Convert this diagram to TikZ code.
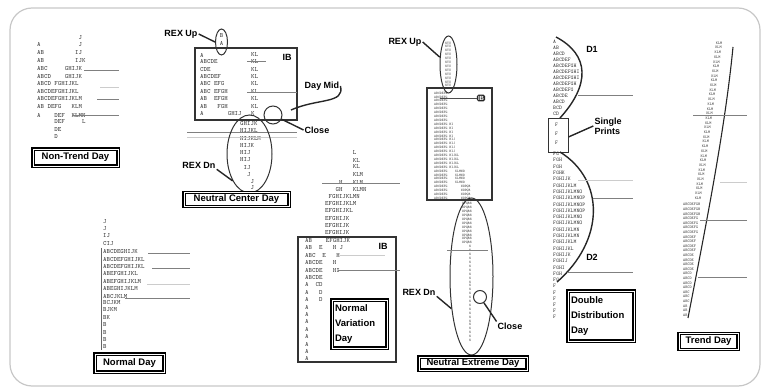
\documentclass[tikz,border=0pt]{standalone}
\usepackage{fontspec}
\usepackage{tikz}
\usetikzlibrary{shapes.geometric}
\newfontfamily\lblfont{Liberation Sans}

\tikzset{
  outerframe/.style={draw=black!22, line width=1.2pt, rounded corners=22pt},
  prof/.style={font=\ttfamily\fontsize{6.5}{6.5}\selectfont, text=black!80, inner sep=0pt, anchor=west},
  profm/.style={prof, font=\ttfamily\fontsize{5.5}{5.5}\selectfont},
  profs/.style={prof, font=\ttfamily\fontsize{3.6}{3.6}\selectfont},
  lvl/.style={draw=black!50, line width=0.8pt},
  lvlf/.style={draw=black!20, line width=0.8pt},
  lbl/.style={font=\lblfont\bfseries\fontsize{9}{10}\selectfont, inner sep=1pt},
  daybox/.style={draw=black, line width=1.3pt, double, double distance=0.7pt, inner sep=1pt, font=\lblfont\bfseries\fontsize{9.5}{15}\selectfont},
  ibbox/.style={draw=black!80, line width=1.1pt},
  rex/.style={draw=black!80, line width=1pt, ellipse, inner sep=0pt},
  closemark/.style={draw=black!80, line width=1pt, circle, inner sep=0pt},
  lead/.style={draw=black!85, line width=1.4pt},
}

\begin{document}
\begin{tikzpicture}[x=1pt,y=-1pt]
\useasboundingbox (0,0) rectangle (764,390);
\draw[outerframe] (10,8) rectangle (760,386);

\foreach \y/\s [count=\i] in {38/~~~~~~~~~~~~J, 45/A~~~~~~~~~~~J, 53/AB~~~~~~~~~IJ, 61/AB~~~~~~~~~IJK,
    69/ABC~~~~~GHIJK, 77/ABCD~~~~GHIJK, 84/ABCD~FGHIJKL, 92/ABCDEFGHIJKL, 99/ABCDEFGHIJKLM,
    107/AB~DEFG~~~KLM, 115/A~~~~DEF~~KLMN, 122/~~~~~DEF~~~~~L, 130/~~~~~DE, 137/~~~~~D}
  \node[prof] (nt\i) at (37,\y) {\s};
\draw[lvl] (84,70) -- (119,70);
\draw[lvlf] (100,87) -- (119,87);
\draw[lvl] (97,99) -- (119,99);
\draw[lvl] (73,115) -- (119,115);
\node[daybox, minimum width=85pt, minimum height=17pt] (ntday) at (75.5,157.5) {Non-Trend Day};

\node[lbl] (ncupl) at (181,34) {REX Up};
\node[rex, minimum width=12pt, minimum height=26pt] (ncup) at (221.5,42) {};
\draw[lead] (ncupl.east) -- (ncup.west);
\foreach \y/\s [count=\i] in {36/B, 43/A}
  \node[prof, anchor=center] (ncu\i) at (221.5,\y) {\s};
\draw[ibbox] (195,48) rectangle (297,120);
\node[lbl] (ncib) at (287,57) {IB};
\foreach \y/\lt/\rt [count=\i] in {55/A/KL, 62/ABCDE/KL, 70/CDE/KL, 77/ABCDEF/KL, 84/ABC~EFG/KL,
    92/ABC~EFGH/KL, 99/AB~~EFGH/KL, 107/AB~~~FGH/KL, 114/A~~~~~~~GHIJ/K} {
  \node[prof] (ncl\i) at (200,\y) {\lt};
  \node[prof] (ncr\i) at (251,\y) {\rt};
}
\draw[lvl] (247,61) -- (266,61);
\draw[lvl] (247,92) -- (297,92);
\foreach \y/\s [count=\i] in {124/GHIJK, 131/HIJKL, 139/HIJKLM, 146/HIJK, 153/HIJ, 160/HIJ,
    168/~IJ, 175/~~J, 182/~~~J, 188/~~~J}
  \node[prof] (ncb\i) at (240,\y) {\s};
\draw[lvl] (187,132) -- (297,132);
\draw[lvlf] (187,137) -- (297,137);
\node[rex, minimum width=45pt, minimum height=78pt] (ncdn) at (249.5,154) {};
\node[lbl] (ncdnl) at (199,165) {REX Dn};
\draw[lead] (ncdnl.south east) -- (ncdn.238);
\node[closemark, minimum size=18pt] (ncclose) at (273,115) {};
\node[lbl] (nccl) at (317,130) {Close};
\draw[lead] (ncclose) -- (nccl.west);
\node[lbl] (dml) at (322,86) {Day Mid};
\coordinate (dmend) at (291,110);
\draw[lead] (dmend) .. controls (318,98) and (345,104) .. (dml.east);
\node[daybox, minimum width=105pt, minimum height=14pt] (ncday) at (236.5,199.5) {Neutral Center Day};

\foreach \y/\s [count=\i] in {222/J, 229/J, 236/IJ, 244/CIJ, 251/ABCDEGHIJK, 259/ABCDEFGHIJKL,
    266/ABCDEFGHIJKL, 273/ABEFGHIJKL, 281/ABEFGHIJKLM, 288/ABEGHIJKLM, 296/ABCJKLM, 303/BCJKM,
    310/BJKM, 318/BK, 325/B, 333/B, 340/B, 347/B}
  \node[prof] (nd\i) at (103,\y) {\s};
\draw[black!60] (101,248) -- (101,350);
\draw[lvl] (148,253) -- (190,253);
\draw[lvl] (152,268) -- (190,268);
\draw[lvlf] (147,284) -- (190,284);
\draw[lvl] (125,298) -- (190,298);
\node[daybox, minimum width=69pt, minimum height=18pt] (ndday) at (129.5,363) {Normal Day};

\foreach \y/\s [count=\i] in {153/~~~~~~~~L, 161/~~~~~~~~KL, 167/~~~~~~~~KL, 175/~~~~~~~~KLM,
    183/~~~~H~~~KLM, 190/~~~GH~~~KLMN, 197/~FGHIJKLMN, 204/EFGHIJKLM, 211/EFGHIJKL,
    219/EFGHIJK, 226/EFGHIJK, 233/EFGHIJK}
  \node[prof] (nvu\i) at (325,\y) {\s};
\draw[lvl] (322,183) -- (400,183);
\draw[ibbox] (298,237) rectangle (396,362);
\node[lbl] (nvib) at (383,246) {IB};
\foreach \s [count=\i] in {AB~~~~EFGHIJK, AB~~E~~~H~J, ABC~~E~~~H, ABCDE~~~H, ABCDE~~~HI, ABCDE,
    A~~CD, A~~~D, A~~~D, A, A, A, A, A, A, A, A}
  \node[prof] (nvi\i) at (305,{233+7.4*\i}) {\s};
\draw[lvlf] (340,255) -- (385,255);
\draw[lvl] (338,270) -- (400,270);
\node[daybox, minimum width=55pt, minimum height=48pt, align=left, text width=49pt] (nvday) at (359.5,324) {Normal\\Variation\\Day};

\node[lbl] (neupl) at (405,42) {REX Up};
\node[rex, minimum width=17pt, minimum height=57pt] (neup) at (448.5,64.5) {};
\draw[lead] (neupl.east) -- (neup.140);
\foreach \i in {0,...,11}
  \node[profs] (neu\i) at (445,{43+3.9*\i}) {STU};
\draw[ibbox] (427,88) rectangle (492,200);
\node[fill=black!85, text=white, rounded corners=1.5pt, inner sep=1.2pt, font=\lblfont\bfseries\fontsize{6}{6}\selectfont] (neib) at (481,98) {IB};
\draw[lvl, draw=black!70] (440,98) -- (neib.west);
\foreach \s [count=\i] in {ABCDEFG, ABCDEFG, ABCDEFG, ABCDEFG, ABCDEFG, ABCDEFG, ABCDEFG, ABCDEFG,
    ABCDEFG~HI, ABCDEFG~HI, ABCDEFG~HI, ABCDEFG~HI, ABCDEFG~HIJ, ABCDEFG~HIJ, ABCDEFG~HIJ, ABCDEFG~HIJ,
    ABCDEFG~HIJKL, ABCDEFG~HIJKL, ABCDEFG~HIJKL, ABCDEFG~HIJKL,
    ABCDEFG~~~~KLMNO, ABCDEFG~~~~KLMNO, ABCDEFG~~~~KLMNO, ABCDEFG~~~~KLMNO,
    ABCDEFG~~~~~~~NOPQR, ABCDEFG~~~~~~~NOPQR, ABCDEFG~~~~~~~NOPQR, ABCDEFG~~~~~~~NOPQR}
  \node[profs] (nei\i) at (434,{89.1+3.9*\i}) {\s};
\foreach \i in {0,...,10}
  \node[profs] (nel\i) at (462,{204+3.9*\i}) {OPQRS};
\foreach \i in {11,...,35}
  \node[profs] (nel\i) at (469,{204+3.9*\i}) {S};
\node[rex, minimum width=43pt, minimum height=157pt] (nedn) at (471.5,276.5) {};
\draw[lvl] (447,250) -- (488,250);
\node[lbl] (nednl) at (419,292) {REX Dn};
\draw[lead] (nednl.south east) -- (nedn.238);
\node[closemark, minimum size=13pt] (neclose) at (480,297) {};
\node[lbl] (necl) at (510,326) {Close};
\draw[lead] (neclose) -- (necl.north west);
\node[daybox, minimum width=108pt, minimum height=13pt] (neday) at (473,363.5) {Neutral Extreme Day};

\foreach \s [count=\i] in {A, AB, ABCD, ABCDEF, ABCDEFGH, ABCDEFGHI, ABCDEFGHI, ABCDEFGH, ABCDEFG,
    ABCDE, ABCD, BCD, CD}
  \node[profm] (ddt\i) at (553,{36+6*\i}) {\s};
\draw[lead] (556,37) .. controls (590,55) and (590,85) .. (560,118);
\node[lbl] (dd1) at (592,49) {D1};
\node[draw=black!80, line width=0.9pt, minimum width=20pt, minimum height=34pt, inner sep=0pt] (spbox) at (558,135) {};
\foreach \i in {1,2,3}
  \node[profm] (dds\i) at (555,{116+9*\i}) {F};
\node[lbl, align=left] (spl) at (608,126) {Single\\Prints};
\draw[lead] ([yshift=-2pt]spbox.east) -- (spl.west);
\foreach \s [count=\i] in {FG, FGH, FGH, FGHK, FGHIJK, FGHIJKLM, FGHIJKLMNO, FGHIJKLMNOP, FGHIJKLMNOP,
    FGHIJKLMNOP, FGHIJKLMNO, FGHIJKLMNO, FGHIJKLMN, FGHIJKLMN, FGHIJKLM, FGHIJKL, FGHIJK, FGHIJ,
    FGHI, FGH, FG}
  \node[profm] (ddb\i) at (553,{147.7+6.3*\i}) {\s};
\foreach \i in {1,...,6}
  \node[profm] (ddf\i) at (553,{280+6.2*\i}) {F};
\draw[lead] (560,152) .. controls (605,180) and (605,240) .. (557,282);
\node[lbl] (dd2) at (592,257) {D2};
\draw[lvl] (578,95) -- (633,95);
\draw[lvlf] (578,180) -- (633,180);
\draw[lvl] (593,198) -- (633,198);
\draw[lvl] (567,272) -- (633,272);
\node[daybox, minimum width=66pt, minimum height=50pt, align=left, text width=60pt] (ddday) at (601,316) {Double\\Distribution\\Day};

\foreach \i in {0,...,33} {
  \pgfmathsetmacro\yy{43+4.7*\i}
  \pgfmathsetmacro\xx{722-37*(\yy-47)/271}
  \node[profs, font=\ttfamily\fontsize{4}{4}\selectfont, anchor=east] (tra\i) at (\xx,\yy) {KLM};
}
\foreach \s [count=\i] in {ABCDEFGH, ABCDEFGH, ABCDEFGH, ABCDEFG, ABCDEFG, ABCDEFG, ABCDEFG,
    ABCDEF, ABCDEF, ABCDEF, ABCDEF, ABCDE, ABCDE, ABCDE, ABCDE, ABCD, ABCD, ABCD, ABCD,
    ABC, ABC, ABC, AB, AB, AB}
  \node[profs, font=\ttfamily\fontsize{4}{4}\selectfont] (trb\i) at (683,{200+4.6*\i}) {\s};
\draw[lead, line width=1.1pt] (733,47) .. controls (725,130) and (705,230) .. (688,318);
\draw[lvl] (693,115) -- (747,115);
\draw[lvlf] (720,182) -- (747,182);
\draw[lvl] (700,220) -- (747,220);
\draw[lvl] (698,277) -- (747,277);
\node[daybox, minimum width=59pt, minimum height=16pt] (trday) at (708.5,341.5) {Trend Day};
\end{tikzpicture}
\end{document}
